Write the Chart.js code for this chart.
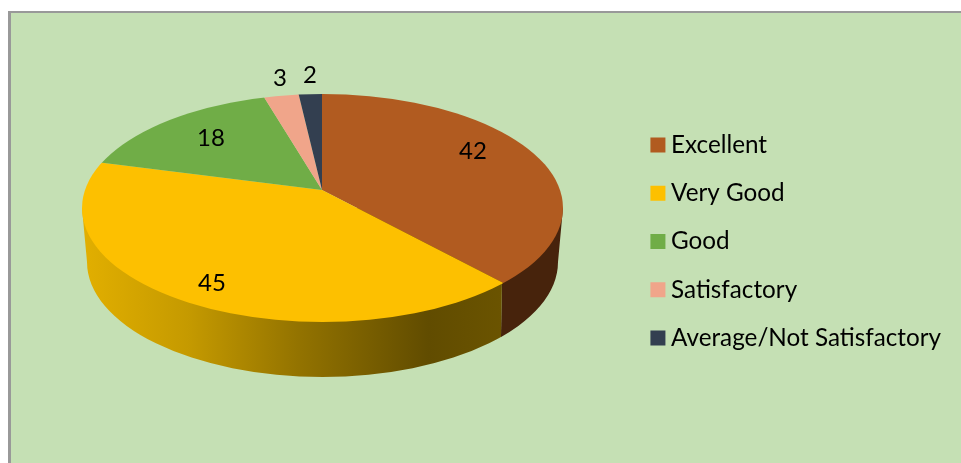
<!DOCTYPE html>
<html>
<head>
<meta charset="utf-8">
<style>
  html, body { margin: 0; padding: 0; background: #fff; overflow: hidden; }
  #panel {
    position: absolute; left: 8px; top: 11px; right: 0; bottom: 0;
    background: #c5e0b4; border-left: 3px solid #999; border-top: 2px solid #999;
  }
  canvas { position: absolute; left: 0; top: 0; }
</style>
<script src="https://cdn.jsdelivr.net/npm/chart.js@4/dist/chart.umd.min.js"></script>
</head>
<body>
<div id="panel"></div>
<canvas id="pie" width="961" height="463"></canvas>
<script>
const categories = ['Excellent', 'Very Good', 'Good', 'Satisfactory', 'Average/Not Satisfactory'];
const ratings = [42, 45, 18, 3, 2];
const sliceColors = ['#b15b20', '#fdc000', '#70ad47', '#f0a58a', '#333f50'];

// Where each value label sits on the page
const labelPos = [[473, 151], [212, 283], [211, 138], [280, 78], [310, 75]];

// Look of the tilted disc: top face, lower edge, and where the slices meet
const top3d = { x: 322.5, y: 208, rx: 240.5, ry: 114 };
const base3d = { x: 322.5, y: 262, rx: 235.5, ry: 115 };
const apex = { x: 322, y: 190 };
const tilt = 0.47;
const reach = 300;

// Point where a slice edge leaves the top ellipse
function rimPoint(angle) {
  const dx = Math.cos(angle);
  const dy = Math.sin(angle) * tilt;
  const ox = (apex.x - top3d.x) / top3d.rx, oy = (apex.y - top3d.y) / top3d.ry;
  const ux = dx / top3d.rx, uy = dy / top3d.ry;
  const a = ux * ux + uy * uy;
  const b = 2 * (ox * ux + oy * uy);
  const c = ox * ox + oy * oy - 1;
  const t = (-b + Math.sqrt(b * b - 4 * a * c)) / (2 * a);
  return { x: apex.x + dx * t, y: apex.y + dy * t };
}

const disc3d = {
  id: 'disc3d',
  beforeDatasetsDraw(chart) {
    const ctx = chart.ctx;
    const arcs = chart.getDatasetMeta(0).data;
    const left = top3d.x - top3d.rx, right = top3d.x + top3d.rx;

    // Side wall, split by the slices that face the viewer
    const wallFill = ctx.createLinearGradient(left, 0, right, 0);
    wallFill.addColorStop(0, '#e2af00');
    wallFill.addColorStop(0.22, '#c59a00');
    wallFill.addColorStop(0.45, '#937300');
    wallFill.addColorStop(0.72, '#614c00');
    wallFill.addColorStop(0.88, '#6b5400');
    const wallColors = ['#47230c', wallFill];

    arcs.forEach((arc, i) => {
      const a = rimPoint(arc.startAngle), b = rimPoint(arc.endAngle);
      if (a.y <= top3d.y && b.y <= top3d.y) return;
      const x1 = a.y > top3d.y ? a.x : right + 1;
      const x0 = b.y > top3d.y ? b.x : left - 1;
      const shrink = base3d.rx / top3d.rx;
      ctx.save();
      ctx.beginPath();
      ctx.moveTo(x0, top3d.y - 20);
      ctx.lineTo(x1, top3d.y - 20);
      ctx.lineTo(top3d.x + (x1 - top3d.x) * shrink, 400);
      ctx.lineTo(top3d.x + (x0 - top3d.x) * shrink, 400);
      ctx.closePath();
      ctx.clip();
      ctx.beginPath();
      ctx.moveTo(left, top3d.y);
      ctx.ellipse(base3d.x, base3d.y, base3d.rx, base3d.ry, 0, Math.PI, 0, true);
      ctx.lineTo(right, top3d.y);
      ctx.closePath();
      ctx.fillStyle = wallColors[i] || sliceColors[i];
      ctx.fill();
      ctx.restore();
    });

    // Top face: library arcs squashed around the apex, cut to the ellipse
    const first = arcs[0];
    const k = reach / first.outerRadius;
    ctx.save();
    ctx.beginPath();
    ctx.ellipse(top3d.x, top3d.y, top3d.rx, top3d.ry, 0, 0, Math.PI * 2);
    ctx.clip();
    ctx.translate(apex.x, apex.y);
    ctx.scale(k, k * tilt);
    ctx.translate(-first.x, -first.y);
  },
  afterDatasetsDraw(chart) {
    const ctx = chart.ctx;
    ctx.restore();

    ctx.save();
    ctx.font = '24px Lato';
    ctx.fillStyle = '#000';
    ctx.textAlign = 'center';
    ctx.textBaseline = 'middle';
    ratings.forEach((v, i) => ctx.fillText(String(v), labelPos[i][0], labelPos[i][1]));
    ctx.restore();
  }
};

new Chart(document.getElementById('pie'), {
  type: 'pie',
  data: {
    labels: categories,
    datasets: [{ data: ratings, backgroundColor: sliceColors, borderWidth: 0 }]
  },
  plugins: [disc3d],
  options: {
    responsive: false,
    animation: false,
    layout: { padding: { top: 20, right: 10 } },
    plugins: {
      tooltip: { enabled: false },
      legend: {
        position: 'right',
        labels: {
          color: '#000',
          font: { family: 'Lato', size: 24.25 },
          boxWidth: 2,
          boxHeight: 2,
          padding: 24.05,
          // thick stroke makes the 15px swatch while keeping the text close to it
          generateLabels: chart => chart.data.labels.map((text, i) => ({
            text,
            fillStyle: sliceColors[i],
            strokeStyle: sliceColors[i],
            lineWidth: 13,
            lineJoin: 'miter',
            index: i
          }))
        }
      }
    }
  }
});
</script>
</body>
</html>
